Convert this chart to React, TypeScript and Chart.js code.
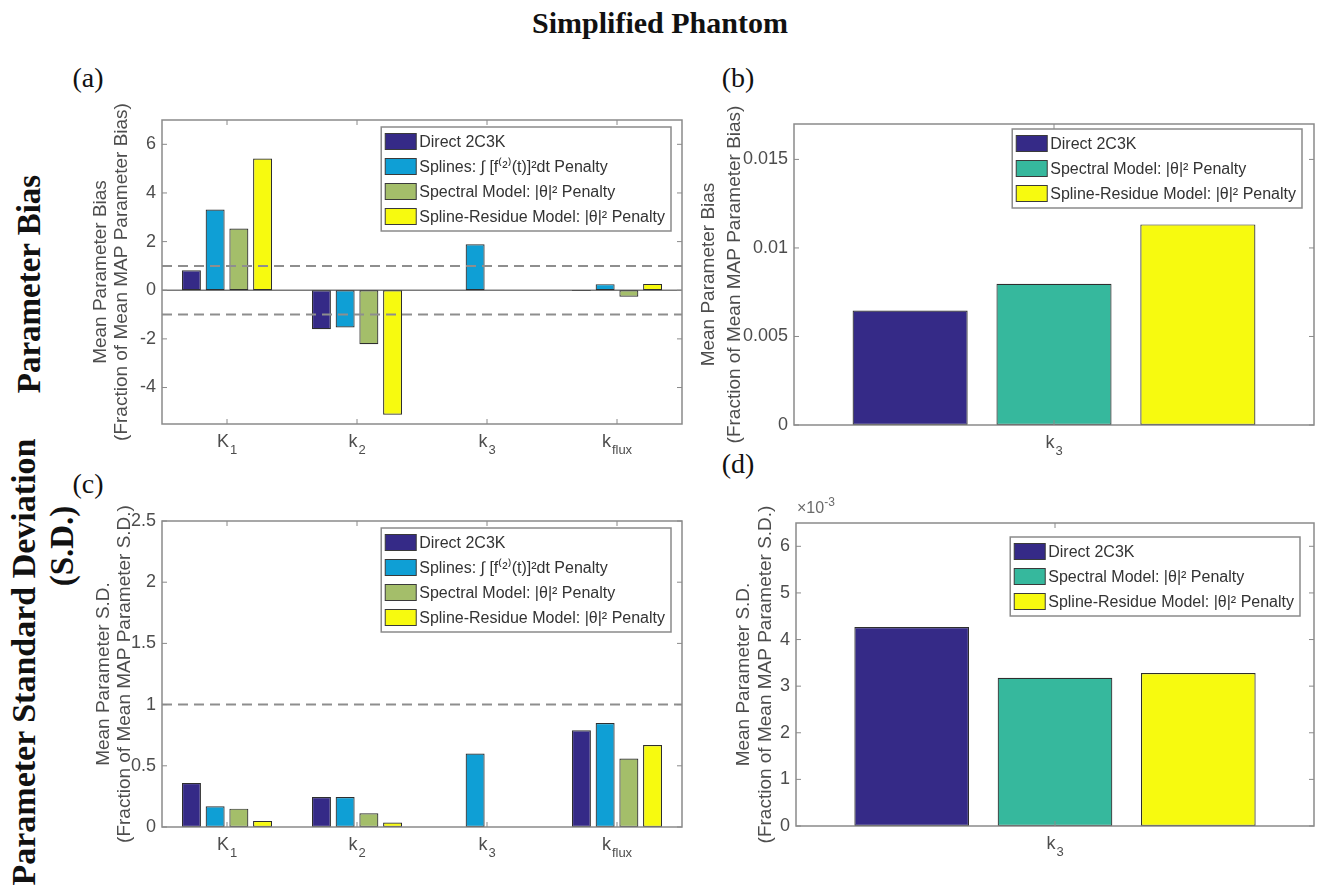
import React, { useEffect, useRef } from "react";
import { Chart, registerables } from "chart.js";

Chart.register(...registerables);

// ---------------- DATA ----------------
const namesFour = [
  "Direct 2C3K",
  "Splines: \u222B [f\u207D\u00B2\u207E(t)]\u00B2dt Penalty",
  "Spectral Model: |\u03B8|\u00B2 Penalty",
  "Spline-Residue Model: |\u03B8|\u00B2 Penalty",
];
const namesThree = [
  "Direct 2C3K",
  "Spectral Model: |\u03B8|\u00B2 Penalty",
  "Spline-Residue Model: |\u03B8|\u00B2 Penalty",
];
const colorsFour = ["#352a87", "#0f9fd5", "#a4be6a", "#f7fa0f"];
const colorsThree = ["#352a87", "#36b89d", "#f7fa0f"];

const paramCategories = ["K1", "k2", "k3", "kflux"];
const paramBase = ["K", "k", "k", "k"];
const paramSub = ["1", "2", "3", "flux"];
const k3Category = ["k3"];
const k3Base = ["k"];
const k3Sub = ["3"];

// (a) Mean parameter bias
const biasDirect = [0.82, -1.6, 0, -0.03];
const biasSplines = [3.32, -1.53, 1.89, 0.25];
const biasSpectral = [2.54, -2.22, 0, -0.27];
const biasSplineResidue = [5.42, -5.12, 0, 0.26];
const biasTicks = [-4, -2, 0, 2, 4, 6];
const biasTickLabels = ["-4", "-2", "0", "2", "4", "6"];
const biasRange = [-5.5, 7];
const biasRefLines = [1, -1];

// (b) k3 bias
const k3BiasDirect = [0.00647];
const k3BiasSpectral = [0.00798];
const k3BiasSplineResidue = [0.01133];
const k3BiasTicks = [0, 0.005, 0.01, 0.015];
const k3BiasTickLabels = ["0", "0.005", "0.01", "0.015"];
const k3BiasRange = [0, 0.017];

// (c) Mean parameter S.D.
const sdDirect = [0.36, 0.245, 0, 0.79];
const sdSplines = [0.17, 0.245, 0.6, 0.85];
const sdSpectral = [0.15, 0.112, 0, 0.56];
const sdSplineResidue = [0.05, 0.036, 0, 0.67];
const sdTicks = [0, 0.5, 1, 1.5, 2, 2.5];
const sdTickLabels = ["0", "0.5", "1", "1.5", "2", "2.5"];
const sdRange = [0, 2.5];
const sdRefLines = [1];

// (d) k3 S.D.
const k3SdDirect = [0.00427];
const k3SdSpectral = [0.00318];
const k3SdSplineResidue = [0.00328];
const k3SdTicks = [0, 0.001, 0.002, 0.003, 0.004, 0.005, 0.006];
const k3SdTickLabels = ["0", "1", "2", "3", "4", "5", "6"];
const k3SdRange = [0, 0.0065];

// ---------------- STYLE ----------------
const SANS = '"Liberation Sans", Arial, Helvetica, sans-serif';
const SERIF = '"Liberation Serif", "Times New Roman", serif';
const TXT = "#4d4d4d";
const AXIS = "#8a8a8a";

type Series = { label: string; data: number[]; color: string };
type PanelSpec = {
  left: number;
  top: number;
  width: number;
  height: number;
  yWidth: number;
  padTop: number;
  padRight: number;
  xHeight: number;
  labels: string[];
  base: string[];
  sub: string[];
  series: Series[];
  range: number[];
  ticks: number[];
  tickLabels: string[];
  yTitle: string[];
  titlePad: number;
  titleLH: number;
  refLines: number[];
  baseline: boolean;
  catPct: number;
  barPct: number;
  legendRight: number;
  legendTop: number;
  legendRow: number;
};

function Panel({ p }: { p: PanelSpec }) {
  const ref = useRef<HTMLCanvasElement | null>(null);
  useEffect(() => {
    const canvas = ref.current;
    if (!canvas) return;
    const decor = {
      id: "decor",
      beforeDatasetsDraw(chart: any) {
        const { ctx, chartArea: a, scales } = chart;
        if (p.baseline) {
          const y0 = scales.y.getPixelForValue(0);
          ctx.save();
          ctx.strokeStyle = "#7a7a7a";
          ctx.lineWidth = 1.5;
          ctx.beginPath();
          ctx.moveTo(a.left, y0);
          ctx.lineTo(a.right, y0);
          ctx.stroke();
          ctx.restore();
        }
      },
      afterDatasetsDraw(chart: any) {
        const { ctx, chartArea: a, scales } = chart;
        const x = scales.x;
        const y = scales.y;
        ctx.save();
        // reference dashed lines
        ctx.strokeStyle = "#8e8e8e";
        ctx.lineWidth = 2;
        ctx.setLineDash([10, 6]);
        p.refLines.forEach((v) => {
          const py = y.getPixelForValue(v);
          ctx.beginPath();
          ctx.moveTo(a.left, py);
          ctx.lineTo(a.right, py);
          ctx.stroke();
        });
        ctx.setLineDash([]);
        // box
        ctx.strokeStyle = AXIS;
        ctx.lineWidth = 1.5;
        ctx.strokeRect(a.left, a.top, a.right - a.left, a.bottom - a.top);
        // inward ticks
        ctx.lineWidth = 1;
        y.ticks.forEach((t: any) => {
          const py = y.getPixelForValue(t.value);
          ctx.beginPath();
          ctx.moveTo(a.left, py);
          ctx.lineTo(a.left + 5, py);
          ctx.moveTo(a.right, py);
          ctx.lineTo(a.right - 5, py);
          ctx.stroke();
        });
        p.labels.forEach((_l, i) => {
          const px = x.getPixelForValue(i);
          ctx.beginPath();
          ctx.moveTo(px, a.bottom);
          ctx.lineTo(px, a.bottom - 5);
          ctx.moveTo(px, a.top);
          ctx.lineTo(px, a.top + 5);
          ctx.stroke();
        });
        // x tick labels with subscripts
        ctx.fillStyle = TXT;
        ctx.textBaseline = "middle";
        ctx.textAlign = "left";
        p.base.forEach((b, i) => {
          const px = x.getPixelForValue(i);
          ctx.font = `18px ${SANS}`;
          const bw = ctx.measureText(b).width;
          ctx.font = `13px ${SANS}`;
          const sw = ctx.measureText(p.sub[i]).width;
          const start = px - (bw + sw + 1) / 2;
          ctx.font = `18px ${SANS}`;
          ctx.fillText(b, start, a.bottom + 18);
          ctx.font = `13px ${SANS}`;
          ctx.fillText(p.sub[i], start + bw + 1, a.bottom + 26);
        });
        ctx.restore();
      },
      afterDraw(chart: any) {
        const { ctx, chartArea: a } = chart;
        const ds = chart.data.datasets;
        ctx.save();
        ctx.font = `16px ${SANS}`;
        const tw = Math.max(...ds.map((d: any) => ctx.measureText(d.label).width));
        const w = 4 + 31 + 3 + tw + 6;
        const rh = p.legendRow;
        const h = ds.length * rh + 4;
        const right = a.right - p.legendRight;
        const top = a.top + p.legendTop;
        const left = right - w;
        ctx.fillStyle = "#ffffff";
        ctx.fillRect(left, top, w, h);
        ctx.strokeStyle = "#8a8a8a";
        ctx.lineWidth = 1.5;
        ctx.strokeRect(left, top, w, h);
        ds.forEach((d: any, i: number) => {
          const cy = top + 2 + rh * i + rh / 2;
          ctx.fillStyle = d.backgroundColor;
          ctx.fillRect(left + 4, cy - 8, 31, 16);
          ctx.strokeStyle = "#3a3a3a";
          ctx.lineWidth = 1;
          ctx.strokeRect(left + 4, cy - 8, 31, 16);
          ctx.fillStyle = "#333333";
          ctx.textBaseline = "middle";
          ctx.textAlign = "left";
          ctx.fillText(d.label, left + 38, cy + 1);
        });
        ctx.restore();
      },
    };
    const chart = new Chart(canvas, {
      type: "bar",
      data: {
        labels: p.labels,
        datasets: p.series.map((s) => ({
          label: s.label,
          data: s.data,
          backgroundColor: s.color,
          borderColor: "#2e2e2e",
          borderWidth: 1.2,
          borderSkipped: false,
          categoryPercentage: p.catPct,
          barPercentage: p.barPct,
        })),
      },
      options: {
        animation: false,
        responsive: false,
        devicePixelRatio: 1,
        layout: { padding: { left: 0, top: p.padTop, right: p.padRight, bottom: 0 } },
        plugins: { legend: { display: false }, tooltip: { enabled: false } },
        scales: {
          x: {
            offset: true,
            grid: { display: false, drawTicks: false },
            border: { display: false },
            ticks: { display: false },
            afterFit: (s: any) => {
              s.height = p.xHeight;
            },
          },
          y: {
            min: p.range[0],
            max: p.range[1],
            afterBuildTicks: (s: any) => {
              s.ticks = p.ticks.map((v) => ({ value: v }));
            },
            ticks: {
              callback: (_v: any, i: number) => p.tickLabels[i],
              color: TXT,
              font: { family: SANS, size: 18 },
              padding: 6,
            },
            grid: { display: false, drawTicks: false },
            border: { display: false },
            title: {
              display: true,
              text: p.yTitle,
              color: TXT,
              font: { family: SANS, size: 19, lineHeight: p.titleLH },
              padding: { top: p.titlePad, bottom: 0 },
            },
            afterFit: (s: any) => {
              s.width = p.yWidth;
            },
          },
        },
      } as any,
      plugins: [decor],
    });
    return () => chart.destroy();
  }, [p]);
  return (
    <canvas
      ref={ref}
      width={p.width}
      height={p.height}
      style={{ position: "absolute", left: p.left, top: p.top, width: p.width, height: p.height }}
    />
  );
}

const panelA: PanelSpec = {
  left: 60, top: 100, width: 640, height: 370,
  yWidth: 102, padTop: 20, padRight: 18, xHeight: 46,
  labels: paramCategories, base: paramBase, sub: paramSub,
  series: [
    { label: namesFour[0], data: biasDirect, color: colorsFour[0] },
    { label: namesFour[1], data: biasSplines, color: colorsFour[1] },
    { label: namesFour[2], data: biasSpectral, color: colorsFour[2] },
    { label: namesFour[3], data: biasSplineResidue, color: colorsFour[3] },
  ],
  range: biasRange, ticks: biasTicks, tickLabels: biasTickLabels,
  yTitle: ["Mean Parameter Bias", "(Fraction of Mean MAP Parameter Bias)"],
  titlePad: 30, titleLH: 1.12, refLines: biasRefLines, baseline: true,
  catPct: 0.73, barPct: 0.8, legendRight: 11, legendTop: 7, legendRow: 25,
};

const panelB: PanelSpec = {
  left: 690, top: 100, width: 631, height: 370,
  yWidth: 104, padTop: 24, padRight: 7, xHeight: 45,
  labels: k3Category, base: k3Base, sub: k3Sub,
  series: [
    { label: namesThree[0], data: k3BiasDirect, color: colorsThree[0] },
    { label: namesThree[1], data: k3BiasSpectral, color: colorsThree[1] },
    { label: namesThree[2], data: k3BiasSplineResidue, color: colorsThree[2] },
  ],
  range: k3BiasRange, ticks: k3BiasTicks, tickLabels: k3BiasTickLabels,
  yTitle: ["Mean Parameter Bias", "(Fraction of Mean MAP Parameter Bias)"],
  titlePad: 6, titleLH: 1.35, refLines: [], baseline: false,
  catPct: 0.83, barPct: 0.8, legendRight: 12, legendTop: 5, legendRow: 25,
};

const panelC: PanelSpec = {
  left: 60, top: 500, width: 640, height: 380,
  yWidth: 102, padTop: 21, padRight: 18, xHeight: 53,
  labels: paramCategories, base: paramBase, sub: paramSub,
  series: [
    { label: namesFour[0], data: sdDirect, color: colorsFour[0] },
    { label: namesFour[1], data: sdSplines, color: colorsFour[1] },
    { label: namesFour[2], data: sdSpectral, color: colorsFour[2] },
    { label: namesFour[3], data: sdSplineResidue, color: colorsFour[3] },
  ],
  range: sdRange, ticks: sdTicks, tickLabels: sdTickLabels,
  yTitle: ["Mean Parameter S.D.", "(Fraction of Mean MAP Parameter S.D.)"],
  titlePad: 33, titleLH: 1.12, refLines: sdRefLines, baseline: false,
  catPct: 0.73, barPct: 0.8, legendRight: 11, legendTop: 7, legendRow: 25,
};

const panelD: PanelSpec = {
  left: 690, top: 490, width: 631, height: 390,
  yWidth: 106, padTop: 33, padRight: 7, xHeight: 54,
  labels: k3Category, base: k3Base, sub: k3Sub,
  series: [
    { label: namesThree[0], data: k3SdDirect, color: colorsThree[0] },
    { label: namesThree[1], data: k3SdSpectral, color: colorsThree[1] },
    { label: namesThree[2], data: k3SdSplineResidue, color: colorsThree[2] },
  ],
  range: k3SdRange, ticks: k3SdTicks, tickLabels: k3SdTickLabels,
  yTitle: ["Mean Parameter S.D.", "(Fraction of Mean MAP Parameter S.D.)"],
  titlePad: 43, titleLH: 1.15, refLines: [], baseline: false,
  catPct: 0.83, barPct: 0.8, legendRight: 14, legendTop: 14, legendRow: 25,
};

function Label({ text, x, y, size, bold, rotate }: { text: string; x: number; y: number; size: number; bold?: boolean; rotate?: boolean }) {
  return (
    <div
      style={{
        position: "absolute",
        left: x,
        top: y,
        transform: `translate(-50%, -50%)${rotate ? " rotate(-90deg)" : ""}`,
        fontFamily: SERIF,
        fontSize: size,
        fontWeight: bold ? "bold" : "normal",
        whiteSpace: "nowrap",
        color: "#111",
        lineHeight: 1,
      }}
    >
      {text}
    </div>
  );
}

export default function App() {
  return (
    <div
      style={{
        position: "fixed",
        left: 0,
        top: 0,
        width: 1321,
        height: 893,
        background: "#ffffff",
        overflow: "hidden",
      }}
    >
      <Label text="Simplified Phantom" x={660} y={23} size={30} bold />
      <Label text="(a)" x={88} y={78} size={28} />
      <Label text="(b)" x={738} y={78} size={28} />
      <Label text="(c)" x={88} y={484} size={28} />
      <Label text="(d)" x={738} y={464} size={28} />
      <Label text="Parameter Bias" x={29} y={284} size={33} bold rotate />
      <Label text="Parameter Standard Deviation" x={24} y={662} size={34} bold rotate />
      <Label text="(S.D.)" x={62} y={546} size={33} bold rotate />
      <Panel p={panelA} />
      <Panel p={panelB} />
      <Panel p={panelC} />
      <Panel p={panelD} />
      <div
        style={{
          position: "absolute",
          left: 797,
          top: 500,
          fontFamily: SANS,
          fontSize: 16,
          color: "#6a6a6a",
          whiteSpace: "nowrap",
          lineHeight: 1,
        }}
      >
        {"\u00D710"}
        <span style={{ fontSize: 12, position: "relative", top: -7 }}>-3</span>
      </div>
    </div>
  );
}
